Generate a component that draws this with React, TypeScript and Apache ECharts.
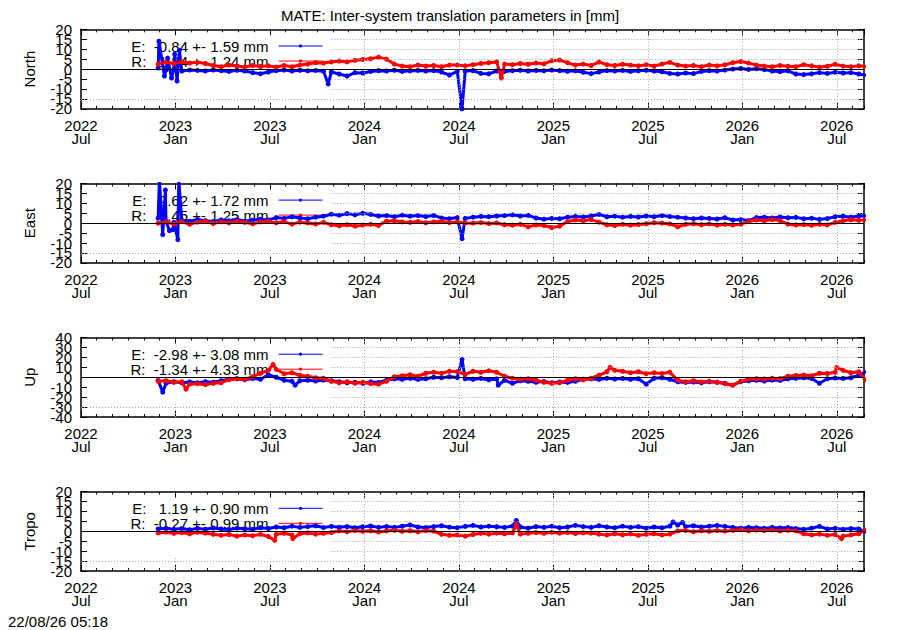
import React, { useEffect, useRef } from 'react';
import * as echarts from 'echarts';

const FONT = '"Liberation Sans", Arial, Helvetica, sans-serif';
const TITLE = 'MATE: Inter-system translation parameters in [mm]';
const STAMP = '22/08/26 05:18';

// x axis in months since 2022 Jul; right edge = 2026-08-22
const X_MAX = 49.73;
const X_TICK_LABELS = ['2022\nJul', '2023\nJan', '2023\nJul', '2024\nJan', '2024\nJul', '2025\nJan', '2025\nJul', '2026\nJan', '2026\nJul'];
const SAMPLE_START = 4.9; // first sample (late Nov 2022), in months
const SAMPLE_STEP = 0.5;  // semi-monthly samples
const GRID_CUT_X = 15.9;  // grid hidden left of this (behind key box)

const PANEL_NAMES = ['North', 'East', 'Up', 'Tropo'];
const PANEL_LIMITS = [20, 20, 40, 20];
const PANEL_STEPS = [5, 5, 10, 5];
const LEGEND_E = ['E:\u00a0\u00a0-0.84 +- 1.59 mm', 'E:\u00a0\u00a0\u00a02.62 +- 1.72 mm', 'E:\u00a0\u00a0-2.98 +- 3.08 mm', 'E:\u00a0\u00a0\u00a01.19 +- 0.90 mm'];
const LEGEND_R = ['R:\u00a0\u00a0\u00a01.84 +- 1.24 mm', 'R:\u00a0\u00a0\u00a00.45 +- 1.25 mm', 'R:\u00a0\u00a0-1.34 +- 4.33 mm', 'R:\u00a0\u00a0-0.27 +- 0.99 mm'];

const northE = [
  0.5, -0.5, 0, -1, -0.5, -0.7, -1, -0.5, -0.8, -1.2,
  -0.6, -1, -1.8, -2.4, -1.5, -0.8, -0.5, -1, -0.6, -0.9,
  -0.7, -1.1, -1.5, -2.5, -3.5, -1.8, -2, -1.2, -0.8, -1,
  -0.6, -1.2, -0.9, -0.7, -1, -0.8, -1.5, -3, -1.2, -1,
  -0.8, -2.2, -2.4, -1, -1.2, -0.8, -0.6, -1, -0.7, -0.9,
  -0.5, -0.8, -1.1, -0.9, -1.6, -2.3, -1.5, -0.8, -1, -0.7,
  -1.2, -0.9, -0.6, -1, -1.4, -2.2, -2.5, -2, -2.3, -1.2,
  -0.8, -1, -0.5, 0, 0.3, -0.2, 0.2, -0.3, -1, -1.3,
  -0.9, -2.5, -2.8, -2.4, -1.8, -2.2, -1.6, -2, -1.8, -2.5,
  -3.2,
];
const northEExtra = [[4.95, 14], [5.3, -3.5], [5.5, 5.5], [5.75, -4.5], [5.95, 7.5], [6.1, -6], [6.25, 9.5], [15.7, -7.5], [24.2, -20]];
const northR = [
  2.5, 3.5, 2.8, 3.6, 3, 3.4, 2.8, 1.8, 1.2, 2,
  1.5, 1, 1.8, 1.3, 1.6, 1, 1.8, 1.2, 2, 2.5,
  3.2, 3, 3.6, 4, 3.6, 4.4, 4.8, 5.2, 6, 5,
  2.5, 1.5, 1.2, 2, 1.5, 1.8, 1.2, 2, 2, 1.6,
  2.2, 2.8, 3.2, 3.6, 2.5, 2.2, 2.8, 2.4, 3, 2.6,
  4.2, 4.5, 3.2, 2, 2.5, 1.8, 3.5, 2.2, 1.8, 2.4,
  2, 1.6, 2.2, 1.5, 2.5, 3.4, 2, 1.5, 1.8, 1.2,
  2, 1.6, 2.2, 3.2, 3.8, 3, 2, 1.5, 1.2, 1.8,
  1.4, 1.2, 2.2, 1.6, 1, 1.4, 2.4, 1.5, 1.2, 1.6,
  1.3,
];
const northRExtra = [[26.7, -4.5]];

const eastE = [
  2.5, 1, 0.5, 1.5, 1, 1.8, 1.2, 0.8, 1.6, 1.2,
  1.8, 1, 1.5, 2, 1.6, 2.8, 2.4, 3.2, 2.6, 2.2,
  3, 3.5, 4.5, 4, 4.8, 4.2, 5, 4.4, 3.6, 3.8,
  3.2, 4, 3.5, 3.8, 3.3, 3.9, 2.6, 2.2, 2.8, 2.4,
  3, 3.4, 3.2, 3.6, 3.8, 4.2, 3.6, 3.9, 2.6, 2,
  2.4, 2.2, 3, 3.4, 3.1, 3.6, 4.4, 3.2, 3.5, 3,
  3.4, 3.1, 3.6, 3.2, 3.8, 3.3, 3, 2.6, 2.2, 2.6,
  2.4, 2.1, 2.7, 1.6, 1.8, 1.3, 2.8, 3, 2.6, 3.1,
  2.7, 2.9, 2.2, 2.5, 1.9, 2.3, 3.2, 3.5, 3, 3.6,
  3.8,
];
const eastEExtra = [[4.98, 22], [5.19, -5.8], [5.36, 16.7], [5.62, -3.8], [5.83, -3.3], [6.15, -8.3], [6.21, 22], [24.2, -7.8]];
const eastR = [
  0, 0.6, -0.4, 0.8, -0.6, 0.5, 1, -0.2, 0.7, 0.2,
  1, 0.4, -0.3, 0.6, 0.9, 0.2, 0.8, -0.5, 0.5, 0.1,
  -0.4, 0.4, -0.8, -1.3, -0.8, -1.5, -1, -0.6, -1.2, 1,
  1.2, 0.6, 0.4, 0.8, 0.2, 0.6, 0.9, 0.3, 0.6, 0.1,
  0, 0.3, -0.2, 0.1, -0.8, -1, -0.6, -1.8, -0.9, -1.2,
  -2.2, -1.5, 0.8, 1.6, 1.2, 1.8, 0.5, -0.8, -1.2, -0.6,
  -1, -0.7, -0.3, 0.2, 0, -0.4, -1.8, -0.6, -0.3, -0.8,
  -0.4, -1, -0.6, -0.9, -0.5, 0.8, 1.6, 1.2, 1.8, 1.3,
  -0.5, -0.9, -0.7, -1.1, -0.6, -0.9, 0.4, 1.2, 1.7, 1.4,
  1.8,
];
const eastRExtra: number[][] = [];

const upE = [
  -3.3, -6, -4.5, -5.5, -4.8, -5.5, -4.5, -5, -3.5, -2,
  -1.5, -2.5, -1.2, -2, 2.5, 0, -3, -4, -3.5, -3,
  -3.8, -2.8, -3.5, -4.5, -5.5, -5, -6, -4.8, -5.2, -3,
  -1.5, -2, -1, -2.2, -1.5, 0, -0.5, 0.5, -0.3, -1.5,
  -2, -1.2, -2.5, -1.7, -3, -6, -3.5, -4, -5, -4.2,
  -5.5, -4.8, -5.2, -4, -2, -1.5, -2.2, -1, -1.8, -1.2,
  -2, -1.5, -7, -1, -0.5, -2, -4.5, -5.2, -4.8, -5.5,
  -4.5, -5, -6, -8, -4.5, -3.5, -3, -3.8, -2.8, -3.2,
  -1.5, -1, -0.5, -1.2, -6, -1.5, -0.8, -1.2, -0.5, 2,
  6,
];
const upEExtra = [[5.19, -15], [13.6, -8], [24.2, 18], [26.5, -8]];
const upR = [
  -4, -3.5, -5, -4.5, -7, -6.5, -7.5, -6, -5.5, -2.5,
  -1.5, -2, 0.5, 4, 7, 8, 3.5, 4.5, 2, 1,
  -0.5, -1, -4, -5.5, -4.5, -6, -5, -6.5, -7, -4,
  0.5, 1.5, 2.5, 1, 4, 5, 4, 6, 5.5, 3,
  6, 5, 6.5, 5, 1, -1, -2, -1.5, -3, -5,
  -6, -5.5, -3, -1.5, -2.5, -1, 2, 5.5, 7, 6,
  4.5, 5.5, 3.5, 4.5, 3.8, 5, -3, -4.5, -3.5, -4.8,
  -4, -5, -6.5, -8, -4, -2, -1.5, -1.8, -1, -1.4,
  1, 1.8, 2.2, 1.5, 4, 3.8, 5, 7, 4.5, 5.5,
  -4,
];
const upRExtra = [[6.67, -12], [12.2, 13], [33.6, 10], [48.0, 10]];

const tropoE = [
  1.2, 1.6, 1, 1.4, 0.8, 1.5, 1.1, 1.7, 1.2, 0.9,
  1.6, 1.3, 1, 1.8, 1.4, 2.2, 1.8, 2.6, 2, 2.4,
  2.8, 1.9, 2.5, 2.1, 2.4, 1.8, 2.3, 2.7, 2, 2.4,
  2, 2.6, 3.2, 2.2, 1.9, 2.4, 2.8, 2.1, 1.8, 2.5,
  3, 2.2, 2.6, 2.3, 2, 2.6, 2.2, 1.6, 2.4, 2,
  2.6, 1.8, 2.2, 3, 2.4, 2, 2.8, 2.2, 1.8, 2.6,
  2, 2.4, 1.6, 2.2, 1.8, 2.6, 3.2, 2.4, 2.8, 2.2,
  2.6, 3, 2.5, 2, 1.6, 2, 1.8, 1.5, 2, 1.7,
  1.9, 1.4, 1, 1.6, 2.5, 1.2, 1.5, 1, 1.4, 1.2,
  -0.5,
];
const tropoEExtra = [[27.65, 5.5], [37.6, 4.7], [38.2, 4.5]];
const tropoR = [
  -0.8, -0.4, -1, -0.6, -1.2, -0.5, -0.9, -1.5, -2, -1.6,
  -2.4, -1.8, -2.2, -1.5, -2.6, -1.5, -1, -1.8, -1.2, -0.8,
  -1.4, -1, -0.6, 0.2, -0.2, 0.4, 0, 0.3, -0.3, 0.2,
  0.5, 0, 0.3, -0.2, 0.4, 0.1, -1.5, -2, -1.8, -2.4,
  -1.6, -1, -1.4, -0.9, -1.2, -0.8, -1.4, -1, -0.6, -1,
  -0.5, -0.9, -0.6, -1.1, -0.7, -0.9, -1.4, -1.8, -1.2, -1.7,
  -1.3, -2, -1.5, -1.2, -1.8, -1.4, 0.2, 0.5, -0.2, 0.3,
  0, 0.4, 0.1, 0.5, 0.8, 0.3, 0.6, 0.4, 0.7, 0.2,
  0.5, 0.3, -1.2, -1.8, -1.4, -2, -1.6, -2.4, -1.8, -1.2,
  1.3,
];
const tropoRExtra = [[12.3, -4.5], [13.45, -3.7], [27.65, 3.5], [48.3, -3.7]];

const SERIES_E = [northE, eastE, upE, tropoE];
const SERIES_E_EXTRA = [northEExtra, eastEExtra, upEExtra, tropoEExtra];
const SERIES_R = [northR, eastR, upR, tropoR];
const SERIES_R_EXTRA = [northRExtra, eastRExtra, upRExtra, tropoRExtra];

function toPoints(base: number[], extra: number[][]) {
  const pts = base.map((v, i) => [SAMPLE_START + SAMPLE_STEP * i, v]).concat(extra.map((p) => [p[0], p[1]]));
  pts.sort((a, b) => a[0] - b[0]);
  return pts;
}

function buildOption() {
  const grids: any[] = [];
  const xAxes: any[] = [];
  const yAxes: any[] = [];
  const series: any[] = [];
  const legends: any[] = [];
  const axisLineStyle = { color: '#000', width: 1.5 };
  const tickStyle = { color: '#000', width: 1 };
  const labelStyle = { color: '#000', fontSize: 15, fontFamily: FONT };

  PANEL_NAMES.forEach((name, k) => {
    const lim = PANEL_LIMITS[k];
    const step = PANEL_STEPS[k];
    const top = 29.3 + 154.1 * k;
    grids.push({ left: 81, right: 36, top, height: 79.5 });
    const xBase = { gridIndex: k, type: 'value', min: 0, max: X_MAX, splitLine: { show: false } };
    xAxes.push({
      ...xBase, position: 'bottom', interval: 6,
      axisLine: { show: true, onZero: false, lineStyle: axisLineStyle },
      axisTick: { show: true, inside: true, length: 6, lineStyle: tickStyle },
      axisLabel: {
        show: true, ...labelStyle, lineHeight: 13, margin: 10, showMaxLabel: false,
        formatter: (v: number) => {
          const i = Math.round(v / 6);
          return Math.abs(v - 6 * i) < 1e-6 && X_TICK_LABELS[i] ? X_TICK_LABELS[i] : '';
        },
      },
    });
    xAxes.push({
      ...xBase, position: 'bottom', interval: 1,
      axisLine: { show: false, onZero: false },
      axisTick: { show: true, inside: true, length: 3, lineStyle: tickStyle },
      axisLabel: { show: false },
    });
    xAxes.push({
      ...xBase, position: 'top', interval: 6,
      axisLine: { show: true, onZero: false, lineStyle: axisLineStyle },
      axisTick: { show: true, inside: true, length: 6, lineStyle: tickStyle },
      axisLabel: { show: false },
    });
    xAxes.push({
      ...xBase, position: 'top', interval: 1,
      axisLine: { show: false, onZero: false },
      axisTick: { show: true, inside: true, length: 3, lineStyle: tickStyle },
      axisLabel: { show: false },
    });

    const yBase = { gridIndex: k, type: 'value', min: -lim, max: lim, interval: step, splitLine: { show: false } };
    const labelAt = (parity: number) => (v: number) => {
      const i = Math.round((v + lim) / step);
      return i % 2 === parity ? String(v) : '';
    };
    // left axis A: odd tick labels (e.g. 15, 5, -5, -15) + axis name
    yAxes.push({
      ...yBase, position: 'left',
      name, nameLocation: 'middle', nameGap: 44,
      nameTextStyle: { ...labelStyle },
      axisLine: { show: true, onZero: false, lineStyle: axisLineStyle },
      axisTick: { show: true, inside: true, length: 6, lineStyle: tickStyle },
      axisLabel: { show: true, ...labelStyle, margin: 9, hideOverlap: false, formatter: labelAt(1) },
    });
    // left axis B: even tick labels (e.g. 20, 10, 0, -10, -20)
    yAxes.push({
      ...yBase, position: 'left',
      axisLine: { show: false, onZero: false },
      axisTick: { show: false },
      axisLabel: { show: true, ...labelStyle, margin: 9, hideOverlap: false, showMinLabel: true, showMaxLabel: true, formatter: labelAt(0) },
    });
    yAxes.push({
      ...yBase, position: 'right',
      axisLine: { show: true, onZero: false, lineStyle: axisLineStyle },
      axisTick: { show: true, inside: true, length: 6, lineStyle: tickStyle },
      axisLabel: { show: false },
    });

    const xi = 4 * k;
    const yi = 3 * k;

    // grid lines (dotted), hidden behind the key box at the upper left
    const cutY = -0.625 * lim;
    const gridData: any[] = [];
    for (let v = -lim + step; v < lim; v += step) {
      if (v === 0) continue;
      const x0 = v > cutY ? GRID_CUT_X : 0;
      gridData.push([{ coord: [x0, v] }, { coord: [X_MAX, v] }]);
    }
    for (let m = 6; m < X_MAX; m += 6) {
      const y1 = m > GRID_CUT_X ? lim : cutY;
      gridData.push([{ coord: [m, -lim] }, { coord: [m, y1] }]);
    }
    series.push({
      type: 'line', xAxisIndex: xi, yAxisIndex: yi, data: [], z: 1, silent: true,
      markLine: {
        silent: true, symbol: ['none', 'none'], label: { show: false },
        lineStyle: { color: '#a8a8a8', width: 1, type: [1, 2] },
        emphasis: { disabled: true },
        data: gridData,
      },
    });

    const common = {
      type: 'line', xAxisIndex: xi, yAxisIndex: yi,
      symbol: 'circle', symbolSize: 5, showSymbol: true, clip: true,
      emphasis: { disabled: true },
    };
    series.push({
      ...common, name: LEGEND_E[k], z: 2,
      data: toPoints(SERIES_E[k], SERIES_E_EXTRA[k]),
      itemStyle: { color: '#0000ff' }, lineStyle: { color: '#0000ff', width: 3 },
    });
    series.push({
      ...common, name: LEGEND_R[k], z: 3,
      data: toPoints(SERIES_R[k], SERIES_R_EXTRA[k]),
      itemStyle: { color: '#ff0000' }, lineStyle: { color: '#ff0000', width: 3 },
    });
    series.push({
      type: 'line', xAxisIndex: xi, yAxisIndex: yi, data: [], z: 4, silent: true,
      markLine: {
        silent: true, symbol: ['none', 'none'], label: { show: false },
        lineStyle: { color: '#000', width: 1.2, type: 'solid' },
        emphasis: { disabled: true },
        data: [{ yAxis: 0 }],
      },
    });

    legends.push({
      data: [LEGEND_E[k], LEGEND_R[k]],
      orient: 'vertical', align: 'right',
      right: 577, top: top + 9.2, padding: 0,
      itemWidth: 44, itemHeight: 4, itemGap: 0,
      selectedMode: false, z: 1,
      lineStyle: { width: 1 },
      textStyle: { ...labelStyle, lineHeight: 15, padding: [0, 5, 0, 0] },
    });
  });

  return {
    animation: false,
    backgroundColor: '#fff',
    title: {
      text: TITLE, left: 'center', top: 3,
      textStyle: { color: '#000', fontSize: 15, fontWeight: 'normal', fontFamily: FONT },
    },
    graphic: [
      { type: 'text', left: 8, top: 614, style: { text: STAMP, fontSize: 15, fill: '#000', fontFamily: FONT } },
    ],
    legend: legends,
    grid: grids,
    xAxis: xAxes,
    yAxis: yAxes,
    series,
  };
}

export default function App() {
  const ref = useRef<HTMLDivElement>(null);
  useEffect(() => {
    document.body.style.margin = '0';
    const chart = echarts.init(ref.current as HTMLDivElement, undefined, { renderer: 'svg' });
    chart.setOption(buildOption() as any);
    return () => chart.dispose();
  }, []);
  return <div ref={ref} style={{ width: 900, height: 630 }} />;
}
